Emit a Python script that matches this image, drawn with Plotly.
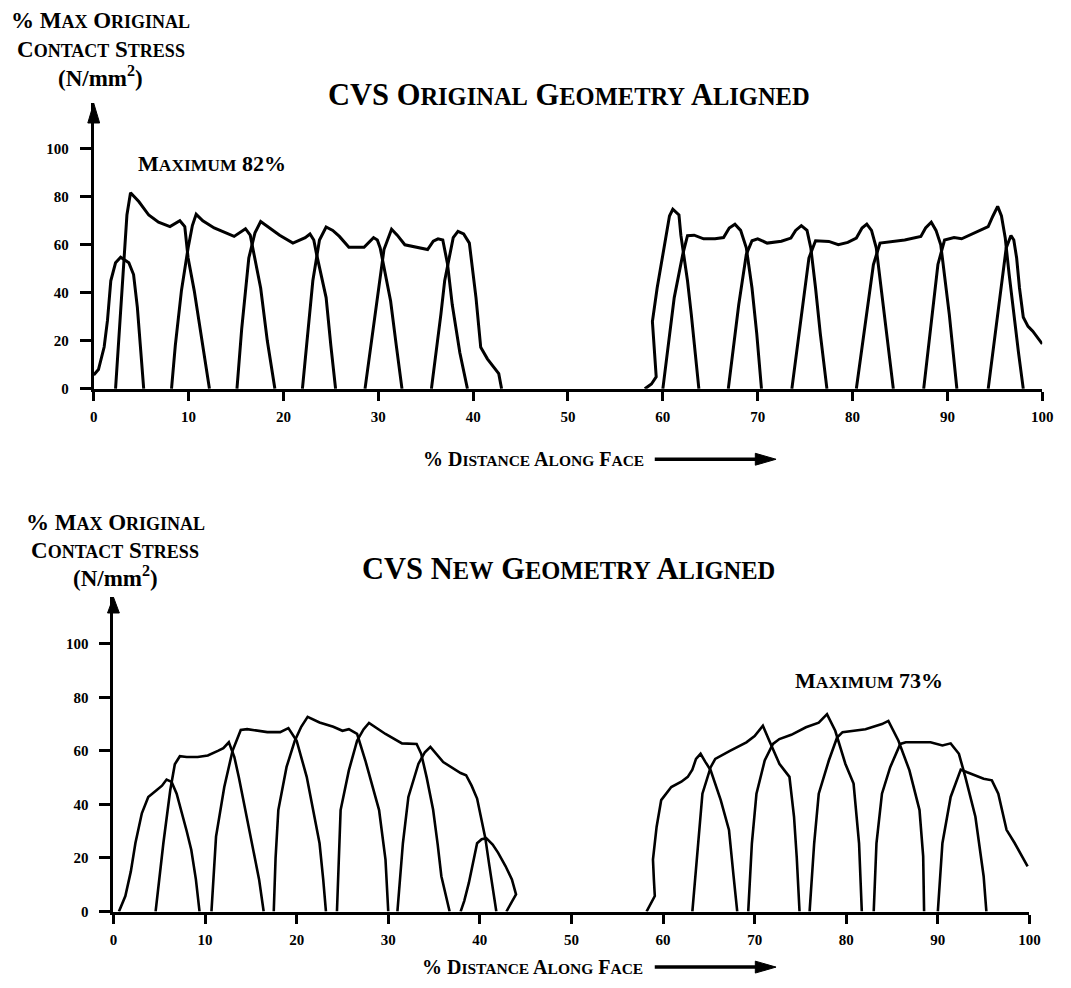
import plotly.graph_objects as go

# ---------------- DATA: CVS original geometry aligned ----------------
orig_0_x = [0, 0.5, 1.1, 1.45, 1.8, 2.3, 2.84, 3.7, 4.2, 4.6, 4.9, 5.27]
orig_0_y = [5.8, 8, 17.4, 28.5, 45, 52.5, 54.8, 52.5, 47.6, 33.9, 18.7, 0]
orig_1_x = [2.3, 2.6, 2.95, 3.2, 3.5, 3.88, 4.75, 5.8, 6.83, 8.04, 9.08, 9.6, 9.95, 10.6, 11.5, 12.2]
orig_1_y = [0, 17.4, 40.8, 54.5, 72.4, 81.7, 78, 72.4, 69.4, 67.6, 70, 67.6, 54.5, 40.8, 18.7, 0]
orig_2_x = [8.2, 8.6, 9.25, 9.95, 10.4, 10.8, 11.5, 12.7, 14.8, 16.0, 16.5, 16.7, 17.6, 18.3, 19.1]
orig_2_y = [0, 18, 41, 58.7, 68, 72.7, 70, 67, 63.5, 66.7, 64, 60, 42, 20, 0]
orig_3_x = [15.1, 15.6, 16.35, 17.0, 17.6, 18.5, 19.6, 21.0, 22.3, 22.8, 23.2, 23.5, 24.5, 25.0, 25.5]
orig_3_y = [0, 25, 54.5, 65, 69.7, 67, 64, 60.7, 63, 64.5, 62, 56, 38, 18, 0]
orig_4_x = [22.0, 22.5, 23.1, 23.8, 24.5, 25.2, 25.9, 26.9, 28.5, 29.5, 29.9, 30.2, 31.3, 31.9, 32.5]
orig_4_y = [0, 20, 45, 62, 67.4, 66, 63.5, 59, 59, 63, 62, 58.7, 36.6, 18, 0]
orig_5_x = [28.6, 29.2, 30.0, 30.6, 31.4, 32.0, 32.8, 35.2, 35.8, 36.3, 36.8, 37.3, 37.8, 38.6, 39.4]
orig_5_y = [0, 18, 40.8, 58, 66.5, 64, 60, 58, 61.5, 62.5, 62, 52, 35, 15, 0]
orig_6_x = [35.6, 36.1, 36.6, 37.0, 37.5, 37.9, 38.4, 39.0, 39.6, 40.3, 40.8, 41.5, 42.7, 43.0]
orig_6_y = [0, 15, 31, 45, 54.5, 63, 65.6, 64.5, 60.7, 38, 17.3, 12.5, 6.3, 0]
orig_7_x = [58.1, 58.8, 59.3, 59.0, 58.9, 59.4, 60.1, 60.7, 61.05, 61.7, 61.9, 62.6, 63.0, 63.5, 63.8]
orig_7_y = [0, 2, 5, 23, 28, 42, 58, 72, 74.8, 72.4, 64, 45, 31, 11.8, 0]
orig_8_x = [60.0, 60.5, 61.2, 61.7, 62.1, 62.6, 63.3, 64.3, 65.5, 66.4, 67.0, 67.6, 68.2, 68.8, 69.4, 69.9, 70.4]
orig_8_y = [0, 15, 38, 48, 56, 63.8, 64, 62.5, 62.5, 63, 67, 68.6, 66, 58.7, 42, 23, 0]
orig_9_x = [66.9, 67.4, 68.0, 68.8, 69.4, 70.0, 71.0, 72.5, 73.5, 74.0, 74.6, 75.2, 75.6, 76.1, 76.6, 77.3]
orig_9_y = [0, 15, 35, 56, 61.7, 62.5, 60.7, 61.5, 62.8, 66, 68, 66, 58.7, 42, 23, 0]
orig_10_x = [73.6, 74.2, 74.8, 75.4, 76.1, 77.5, 78.5, 79.5, 80.4, 81.0, 81.5, 82.0, 82.5, 83.0, 83.4, 84.3]
orig_10_y = [0, 18, 36, 54.5, 61.7, 61.4, 60, 61, 62.8, 67, 68.6, 66, 58.7, 42, 28.4, 0]
orig_11_x = [80.4, 81.0, 81.6, 82.2, 82.9, 84.4, 85.5, 87.2, 87.7, 88.3, 88.8, 89.3, 89.8, 90.2, 91.0]
orig_11_y = [0, 17, 35, 51.8, 60.7, 61.4, 62, 63.5, 67, 69.4, 66, 60, 45, 31, 0]
orig_12_x = [87.5, 88.0, 88.5, 89.0, 89.7, 90.7, 91.5, 92.8, 94.3, 94.8, 95.3, 95.7, 96.1, 96.5, 96.9, 97.5, 98.0]
orig_12_y = [0, 18, 35, 51.8, 62, 63, 62.5, 64.9, 67.6, 72, 76, 72, 62.8, 48, 33.9, 15, 0]
orig_13_x = [94.3, 94.9, 95.5, 96.2, 96.7, 97.0, 97.3, 97.6, 98.0, 98.5, 99.0, 100.0]
orig_13_y = [0, 18, 38, 58.7, 63.9, 62, 54.5, 42, 29.8, 26, 24, 18.7]

# ---------------- DATA: CVS new geometry aligned ----------------
new_0_x = [0.6, 1.3, 1.9, 2.4, 3.1, 3.8, 4.7, 5.3, 5.8, 6.35, 6.9, 7.4, 8.0, 8.5, 9.0, 9.4]
new_0_y = [0, 5.8, 15, 25.6, 36.7, 42.8, 45.3, 47, 49.3, 48.4, 44, 37.9, 30, 23, 12, 0]
new_1_x = [4.6, 5.0, 5.45, 6.2, 6.7, 7.25, 8.0, 9.2, 10.3, 11.4, 12.0, 12.6, 13.2, 13.7, 14.2, 15.3, 15.9, 16.4]
new_1_y = [0, 12, 25.5, 45.3, 55, 58, 57.7, 57.7, 58.3, 60, 61, 63.2, 57.7, 50, 41.6, 23, 12, 0]
new_2_x = [10.7, 11.2, 12.1, 13.0, 13.9, 14.6, 16.8, 18.2, 19.1, 20.0, 21.1, 22.5, 22.9, 23.2]
new_2_y = [0, 28, 46.5, 60, 67.8, 68.1, 67, 67, 68.5, 63.8, 50.3, 25.5, 12, 0]
new_3_x = [17.5, 17.7, 18.0, 18.9, 19.8, 20.5, 21.2, 22.5, 24.0, 25.0, 25.7, 26.6, 27.5, 29.0, 29.7, 30.0]
new_3_y = [0, 20, 37.9, 54, 63.8, 69, 72.7, 70.6, 69, 67.5, 68.1, 66.3, 56.4, 37.9, 19.4, 0]
new_4_x = [24.4, 24.6, 24.8, 25.7, 26.6, 27.3, 27.9, 29.7, 31.5, 33.1, 33.6, 34.2, 34.9, 35.4, 35.8, 36.7]
new_4_y = [0, 20, 37.9, 52.7, 63.8, 68, 70.4, 66.3, 62.8, 62.6, 58.9, 50, 38, 25, 13.2, 0]
new_5_x = [31.0, 31.6, 32.2, 33.3, 34.0, 34.6, 36.0, 37.0, 37.9, 38.5, 39.1, 39.7, 40.3, 40.6, 41.0, 41.3, 41.8]
new_5_y = [0, 25.5, 42.8, 55.2, 59.5, 61.5, 55.8, 53.5, 51.7, 50.9, 47, 42.2, 33, 27.4, 18, 10.7, 0]
new_6_x = [37.9, 38.3, 38.8, 39.7, 40.2, 40.7, 41.4, 42.0, 42.8, 43.5, 43.95, 42.9]
new_6_y = [0, 4, 10.7, 25.5, 27, 27.4, 25, 21.9, 17, 12, 6.4, 0]
new_7_x = [58.2, 59.1, 59.0, 58.9, 59.3, 59.8, 60.9, 62.0, 62.7, 63.2, 63.6, 64.1, 64.6, 65.2, 66.3, 67.2, 67.7, 68.1]
new_7_y = [0, 5.8, 12, 19.4, 31.7, 41.6, 46.5, 48.5, 50.3, 53, 57, 58.9, 56, 52.7, 41.6, 30.5, 13.2, 0]
new_8_x = [63.2, 63.8, 64.3, 65.2, 65.7, 67.3, 69.1, 70.0, 70.9, 71.6, 72.7, 73.8, 74.3, 74.6, 74.9]
new_8_y = [0, 25.5, 44, 53.9, 57, 60, 63.2, 65.5, 69.4, 63.8, 55.2, 50.3, 35.4, 20, 0]
new_9_x = [69.3, 69.7, 70.2, 71.1, 72.0, 72.7, 74.0, 75.6, 77.0, 77.9, 78.8, 79.9, 80.8, 81.4, 81.7]
new_9_y = [0, 25.5, 44, 56.4, 62.6, 64.4, 66, 68.8, 70.5, 73.7, 67.5, 55.2, 47.8, 25.5, 0]
new_10_x = [76.0, 76.5, 77.0, 78.1, 79.0, 79.6, 82.1, 83.9, 84.6, 85.7, 86.9, 88.0, 88.4, 88.5]
new_10_y = [0, 25.5, 44, 56.4, 65, 67, 68.1, 70, 71.2, 63.8, 52.7, 37.9, 20.6, 0]
new_11_x = [83.0, 83.3, 83.9, 84.8, 85.9, 86.5, 89.2, 90.5, 91.4, 92.3, 93.0, 94.1, 95.0, 95.3]
new_11_y = [0, 25.5, 44, 53.9, 62.6, 63.2, 63.2, 62, 62.8, 58.9, 50.3, 35.4, 13.2, 0]
new_12_x = [90.0, 90.5, 91.4, 92.5, 93.2, 95.0, 95.9, 96.6, 97.5, 98.4, 99.8]
new_12_y = [0, 25.5, 42.8, 53, 52, 49.6, 49, 44, 30.5, 25.5, 16.9]

x_ticks = [0, 10, 20, 30, 40, 50, 60, 70, 80, 90, 100]
y_ticks = [0, 20, 40, 60, 80, 100]

orig_curves = [(orig_0_x, orig_0_y), (orig_1_x, orig_1_y), (orig_2_x, orig_2_y), (orig_3_x, orig_3_y),
               (orig_4_x, orig_4_y), (orig_5_x, orig_5_y), (orig_6_x, orig_6_y), (orig_7_x, orig_7_y),
               (orig_8_x, orig_8_y), (orig_9_x, orig_9_y), (orig_10_x, orig_10_y), (orig_11_x, orig_11_y),
               (orig_12_x, orig_12_y), (orig_13_x, orig_13_y)]
new_curves = [(new_0_x, new_0_y), (new_1_x, new_1_y), (new_2_x, new_2_y), (new_3_x, new_3_y),
              (new_4_x, new_4_y), (new_5_x, new_5_y), (new_6_x, new_6_y), (new_7_x, new_7_y),
              (new_8_x, new_8_y), (new_9_x, new_9_y), (new_10_x, new_10_y), (new_11_x, new_11_y),
              (new_12_x, new_12_y)]

# ---------------- LAYOUT ----------------
W, H = 1071, 988
FONT = "Liberation Serif"


def px(v):
    return v / W


def py(v):
    return 1 - v / H


def sc(word, small):
    return f'{word[0]}<span style="font-size:{small}px">{word[1:]}</span>'


fig = go.Figure()
for cx, cy in orig_curves:
    fig.add_trace(go.Scatter(x=cx, y=cy, mode="lines", line=dict(color="black", width=3),
                             xaxis="x", yaxis="y", showlegend=False, hoverinfo="skip"))
for cx, cy in new_curves:
    fig.add_trace(go.Scatter(x=cx, y=cy, mode="lines", line=dict(color="black", width=2.6),
                             xaxis="x2", yaxis="y2", showlegend=False, hoverinfo="skip"))

tickfont = dict(family=FONT, size=15, color="black", weight="bold")
xcommon = dict(tickmode="array", tickvals=x_ticks, ticktext=[str(v) for v in x_ticks],
               showline=True, linecolor="black", linewidth=3, ticks="outside", ticklen=9,
               tickwidth=3, tickcolor="black", showgrid=False, zeroline=False, tickfont=tickfont,
               ticklabelstandoff=3, range=[0, 100], fixedrange=True)
ycommon = dict(tickmode="array", tickvals=y_ticks, ticktext=[str(v) for v in y_ticks],
               showline=True, linecolor="black", linewidth=3, ticks="outside", ticklen=11,
               tickwidth=2.5, tickcolor="black", showgrid=False, zeroline=False, tickfont=tickfont,
               ticklabelstandoff=8, fixedrange=True)

fig.update_layout(
    width=W, height=H, margin=dict(l=0, r=0, t=0, b=0),
    paper_bgcolor="white", plot_bgcolor="white",
    xaxis=dict(domain=[px(91), px(1053)], anchor="y", **xcommon),
    yaxis=dict(domain=[py(392), py(104)], anchor="x", range=[0, 119], **ycommon),
    xaxis2=dict(domain=[px(111), px(1040)], anchor="y2", **xcommon),
    yaxis2=dict(domain=[py(919), py(602)], anchor="x2", range=[0, 117.4], **ycommon),
)

BIG, SMALL = 30.5, 24.5
LB, LS = 23, 18
title_top = "CVS " + " ".join(sc(w, SMALL) for w in ["ORIGINAL", "GEOMETRY", "ALIGNED"])
title_bot = "CVS " + " ".join(sc(w, SMALL) for w in ["NEW", "GEOMETRY", "ALIGNED"])
ylab1 = "% " + sc("MAX", LS) + " " + sc("ORIGINAL", LS)
ylab2 = sc("CONTACT", LS) + " " + sc("STRESS", LS)
ylab3 = "(N/mm<sup>2</sup>)"
xlab = "% " + " ".join(sc(w, 15.5) for w in ["DISTANCE", "ALONG", "FACE"])
max82 = sc("MAXIMUM", 17.5) + " 82%"
max73 = sc("MAXIMUM", 17.5) + " 73%"

ann = []


def text(t, x, y, size, xanchor="center"):
    ann.append(dict(text=t, x=px(x), y=py(y), xref="paper", yref="paper", showarrow=False,
                    xanchor=xanchor, yanchor="middle",
                    font=dict(family=FONT, size=size, color="black", weight="bold")))


text(title_top, 573, 96, BIG)
text(title_bot, 573, 574, BIG)
for (t, yy) in [(ylab1, 21), (ylab2, 50), (ylab3, 77)]:
    text(t, 98, yy, LB)
for (t, yy) in [(ylab1, 527), (ylab2, 555), (ylab3, 581)]:
    text(t, 113, yy, LB)
text(max82, 211, 165, 22)
text(max73, 877, 686, 22)
text(xlab, 537, 463, 20)
text(xlab, 536, 975, 20)

shapes = []
# x-direction arrows next to the axis titles
for yy in [463, 975]:
    shapes.append(dict(type="line", xref="paper", yref="paper", x0=px(660), x1=px(768),
                       y0=py(yy), y1=py(yy), line=dict(color="black", width=3.5)))
    shapes.append(dict(type="path", xref="paper", yref="paper",
                       path=f"M {px(762)},{py(yy - 6)} L {px(783)},{py(yy)} L {px(762)},{py(yy + 6)} Z",
                       fillcolor="black", line=dict(color="black", width=1)))
# arrow heads on top of the y axes
for (xa, ytip, hl) in [(91, 104, 20), (111, 602, 16)]:
    shapes.append(dict(type="path", xref="paper", yref="paper",
                       path=f"M {px(xa - 6)},{py(ytip + hl)} L {px(xa)},{py(ytip)} L {px(xa + 6)},{py(ytip + hl)} Z",
                       fillcolor="black", line=dict(color="black", width=1)))

fig.update_layout(annotations=ann, shapes=shapes)
fig.write_html(
    "out.html",
    config={"displayModeBar": False},
    post_script=(
        "document.documentElement.style.margin='0';document.body.style.margin='0';"
        "document.documentElement.style.overflow='hidden';document.body.style.overflow='hidden';"
    ),
)
